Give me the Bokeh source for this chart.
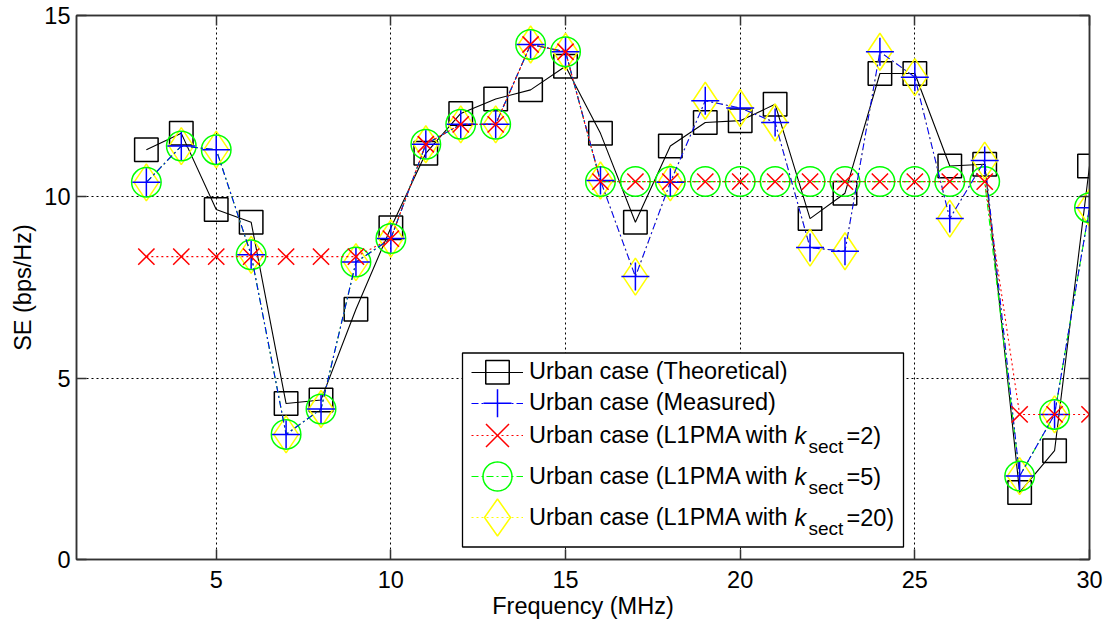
import numpy as np
from bokeh.plotting import figure
from bokeh.models import (Range1d, LinearAxis, FixedTicker, Legend, LegendItem,
                          BoxAnnotation, PolyAnnotation, Label)
from bokeh.embed import file_html
from bokeh.resources import INLINE

# ---------------- data ----------------
freq = list(range(3, 31))
theoretical = [11.3, 11.75, 9.65, 9.3, 4.3, 4.4, 6.9, 9.15, 11.2, 12.3, 12.7, 12.95, 13.6, 11.75,
               9.3, 11.4, 12.05, 12.1, 12.55, 9.4, 10.1, 13.4, 13.4, 10.85, 10.9, 1.85, 3.0, 10.85]
measured = [10.4, 11.4, 11.3, 8.4, 3.45, 4.15, 8.2, 8.85, 11.45, 12.0, 12.0, 14.2, 14.0, 10.45,
            7.8, 10.4, 12.65, 12.45, 12.05, 8.6, 8.5, 14.0, 13.3, 9.4, 11.0, 2.3, 4.0, 9.7]
l1pma_k2 = [8.35, 8.35, 8.35, 8.35, 8.35, 8.35, 8.35, 8.85, 11.45, 12.0, 12.0, 14.2, 14.0, 10.42,
            10.42, 10.42, 10.42, 10.42, 10.42, 10.42, 10.42, 10.42, 10.42, 10.42, 10.42, 4.0, 4.0, 4.0]
l1pma_k5 = [10.4, 11.4, 11.3, 8.4, 3.45, 4.15, 8.2, 8.85, 11.45, 12.0, 12.0, 14.2, 14.0, 10.42,
            10.42, 10.42, 10.42, 10.42, 10.42, 10.42, 10.42, 10.42, 10.42, 10.42, 10.42, 2.3, 4.0, 9.7]
l1pma_k20 = [10.4, 11.4, 11.3, 8.4, 3.45, 4.15, 8.2, 8.85, 11.45, 12.0, 12.0, 14.2, 14.0, 10.45,
             7.8, 10.4, 12.65, 12.45, 12.05, 8.6, 8.5, 14.0, 13.3, 9.4, 11.0, 2.3, 4.0, 9.7]

x_ticks = [5, 10, 15, 20, 25, 30]
y_ticks = [0, 5, 10, 15]
legend_labels = ["Urban case (Theoretical)", "Urban case (Measured)",
                 "Urban case (L1PMA with", "Urban case (L1PMA with", "Urban case (L1PMA with"]
ksect_values = ["=2)", "=5)", "=20)"]

FONT = "Liberation Sans"
FS = "23.5px"
AX = "#333333"

# ---------------- figure ----------------
FL, FT, FR, FB = 76, 15, 1089, 559   # frame edges in page px
p = figure(width=1107, height=624, x_range=Range1d(1, 30), y_range=Range1d(0, 15),
           output_backend="svg", toolbar_location=None,
           min_border_left=FL, min_border_right=1107 - FR, min_border_top=FT,
           min_border_bottom=624 - FB)
p.background_fill_color = "white"
p.border_fill_color = "white"
p.outline_line_color = AX
p.outline_line_width = 1.5


def style_axis(ax, ticks, show_labels=True):
    ax.ticker = FixedTicker(ticks=ticks)
    ax.axis_line_color = AX
    ax.axis_line_width = 1.5
    ax.major_tick_line_color = AX
    ax.major_tick_line_width = 1.5
    ax.major_tick_in = 10
    ax.major_tick_out = 0
    ax.minor_tick_line_color = None
    ax.major_label_text_font = FONT
    ax.major_label_text_color = "black"
    if show_labels:
        ax.major_label_text_font_size = FS
    else:
        ax.major_label_text_font_size = "0px"
        ax.major_label_overrides = {t: "" for t in ticks}
        ax.major_label_standoff = 0


xa = p.xaxis[0]
ya = p.yaxis[0]
style_axis(xa, x_ticks)
style_axis(ya, y_ticks)
xa.major_label_standoff = 11
ya.major_label_standoff = 6
xa.axis_label = "Frequency (MHz)"
ya.axis_label = "SE (bps/Hz)"
for ax in (xa, ya):
    ax.axis_label_text_font = FONT
    ax.axis_label_text_font_size = FS
    ax.axis_label_text_font_style = "normal"
    ax.axis_label_text_color = "black"
xa.axis_label_standoff = 2
ya.axis_label_standoff = 5

top_ax = LinearAxis()
right_ax = LinearAxis()
style_axis(top_ax, x_ticks, show_labels=False)
style_axis(right_ax, y_ticks, show_labels=False)
p.add_layout(top_ax, "above")
p.add_layout(right_ax, "right")

p.xgrid.ticker = FixedTicker(ticks=x_ticks)
p.ygrid.ticker = FixedTicker(ticks=y_ticks)
for g in (p.xgrid[0], p.ygrid[0]):
    g.grid_line_color = "black"
    g.grid_line_dash = "2 3"
    g.grid_line_width = 1
    g.grid_line_alpha = 1.0

# ---------------- series ----------------
styles = {
    "theo": dict(y=theoretical, color="black", dash="solid", marker="square", size=23.5),
    "meas": dict(y=measured, color="#0000ff", dash="7 3 2 3", marker="cross", size=28),
    "k2": dict(y=l1pma_k2, color="#ff0000", dash="2 3", marker="x", size=23),
    "k5": dict(y=l1pma_k5, color="#00ff00", dash="7 3 2 3", marker="circle", size=29.5),
    "k20": dict(y=l1pma_k20, color="#ffff00", dash="2 3", marker="diamond", size=37),
}
draw_order = ["theo", "k20", "k5", "meas", "k2"]
legend_order = ["theo", "meas", "k2", "k5", "k20"]

line_r = {}
for key in draw_order:
    s = styles[key]
    line_r[key] = p.line(freq, s["y"], line_color=s["color"], line_width=1.1, line_dash=s["dash"])
    p.scatter(freq, s["y"], marker=s["marker"], size=s["size"], line_color=s["color"],
              fill_color=None, line_width=1.5)

# ---------------- legend ----------------
BOX_L, BOX_R, BOX_T, BOX_B = 462, 903, 352.5, 546.5
GLYPH_L, GLYPH_W, STANDOFF = 471, 52, 6
ROW_H = 30
# two groups of rows: plain entries, then entries with a subscript (taller rows)
groups = [dict(first=0, n=2, top=356.7, sp=1), dict(first=2, n=3, top=420, sp=11)]


def sx(X):
    return X - FL


def sy(Y):
    return FB - Y


p.add_layout(BoxAnnotation(left=sx(BOX_L), right=sx(BOX_R), top=sy(BOX_T), bottom=sy(BOX_B),
                           left_units="screen", right_units="screen",
                           top_units="screen", bottom_units="screen",
                           fill_color="white", fill_alpha=1.0,
                           line_color="black", line_alpha=1.0, line_width=1.3))

rows_c = []
for g in groups:
    idx = range(g["first"], g["first"] + g["n"])
    h = g["n"] * ROW_H + (g["n"] - 1) * g["sp"]
    leg = Legend(items=[LegendItem(label=legend_labels[i], renderers=[line_r[legend_order[i]]])
                        for i in idx],
                 location=(sx(GLYPH_L), FB - (g["top"] + h)),
                 padding=0, margin=0, spacing=g["sp"], label_height=ROW_H,
                 glyph_height=ROW_H, glyph_width=GLYPH_W, label_standoff=STANDOFF,
                 border_line_color=None, background_fill_alpha=0,
                 label_text_font=FONT, label_text_font_size=FS,
                 label_text_color="black")
    p.add_layout(leg)
    rows_c += [g["top"] + ROW_H / 2 + j * (ROW_H + g["sp"]) for j in range(g["n"])]

# legend marker samples
cx = GLYPH_L + GLYPH_W / 2


def add_poly(xs, ys, color):
    p.add_layout(PolyAnnotation(xs=[sx(v) for v in xs], ys=[sy(v) for v in ys],
                                xs_units="screen", ys_units="screen",
                                fill_alpha=0, line_color=color, line_alpha=1.0, line_width=1.5))


for key, cy in zip(legend_order, rows_c):
    col = styles[key]["color"]
    m = styles[key]["marker"]
    if m == "square":
        h = 11.75
        add_poly([cx - h, cx + h, cx + h, cx - h], [cy - h, cy - h, cy + h, cy + h], col)
    elif m == "cross":
        h = 14
        add_poly([cx - h, cx + h, cx, cx, cx, cx], [cy, cy, cy, cy + h, cy - h, cy], col)
    elif m == "x":
        h = 11.5
        add_poly([cx - h, cx + h, cx, cx - h, cx + h, cx], [cy - h, cy + h, cy, cy + h, cy - h, cy], col)
    elif m == "circle":
        t = np.linspace(0, 2 * np.pi, 49)[:-1]
        add_poly(list(cx + 14.5 * np.cos(t)), list(cy + 14.5 * np.sin(t)), col)
    elif m == "diamond":
        add_poly([cx, cx + 13, cx, cx - 13], [cy - 18.5, cy, cy + 18.5, cy], col)

# k_sect pieces of the L1PMA entries
K_X, SUB_X, EQ_X = 794, 808, 846
for cy, suffix in zip(rows_c[2:], ksect_values):
    p.add_layout(Label(x=sx(K_X), y=sy(cy), x_units="screen", y_units="screen", text="k",
                       text_font=FONT, text_font_style="italic", text_font_size=FS,
                       text_baseline="middle", text_align="left", text_color="black"))
    p.add_layout(Label(x=sx(SUB_X), y=sy(cy + 11), x_units="screen", y_units="screen", text="sect",
                       text_font=FONT, text_font_size="19px",
                       text_baseline="middle", text_align="left", text_color="black"))
    p.add_layout(Label(x=sx(EQ_X), y=sy(cy), x_units="screen", y_units="screen", text=suffix,
                       text_font=FONT, text_font_size=FS,
                       text_baseline="middle", text_align="left", text_color="black"))

open("out.html", "w").write(file_html(p, INLINE))
